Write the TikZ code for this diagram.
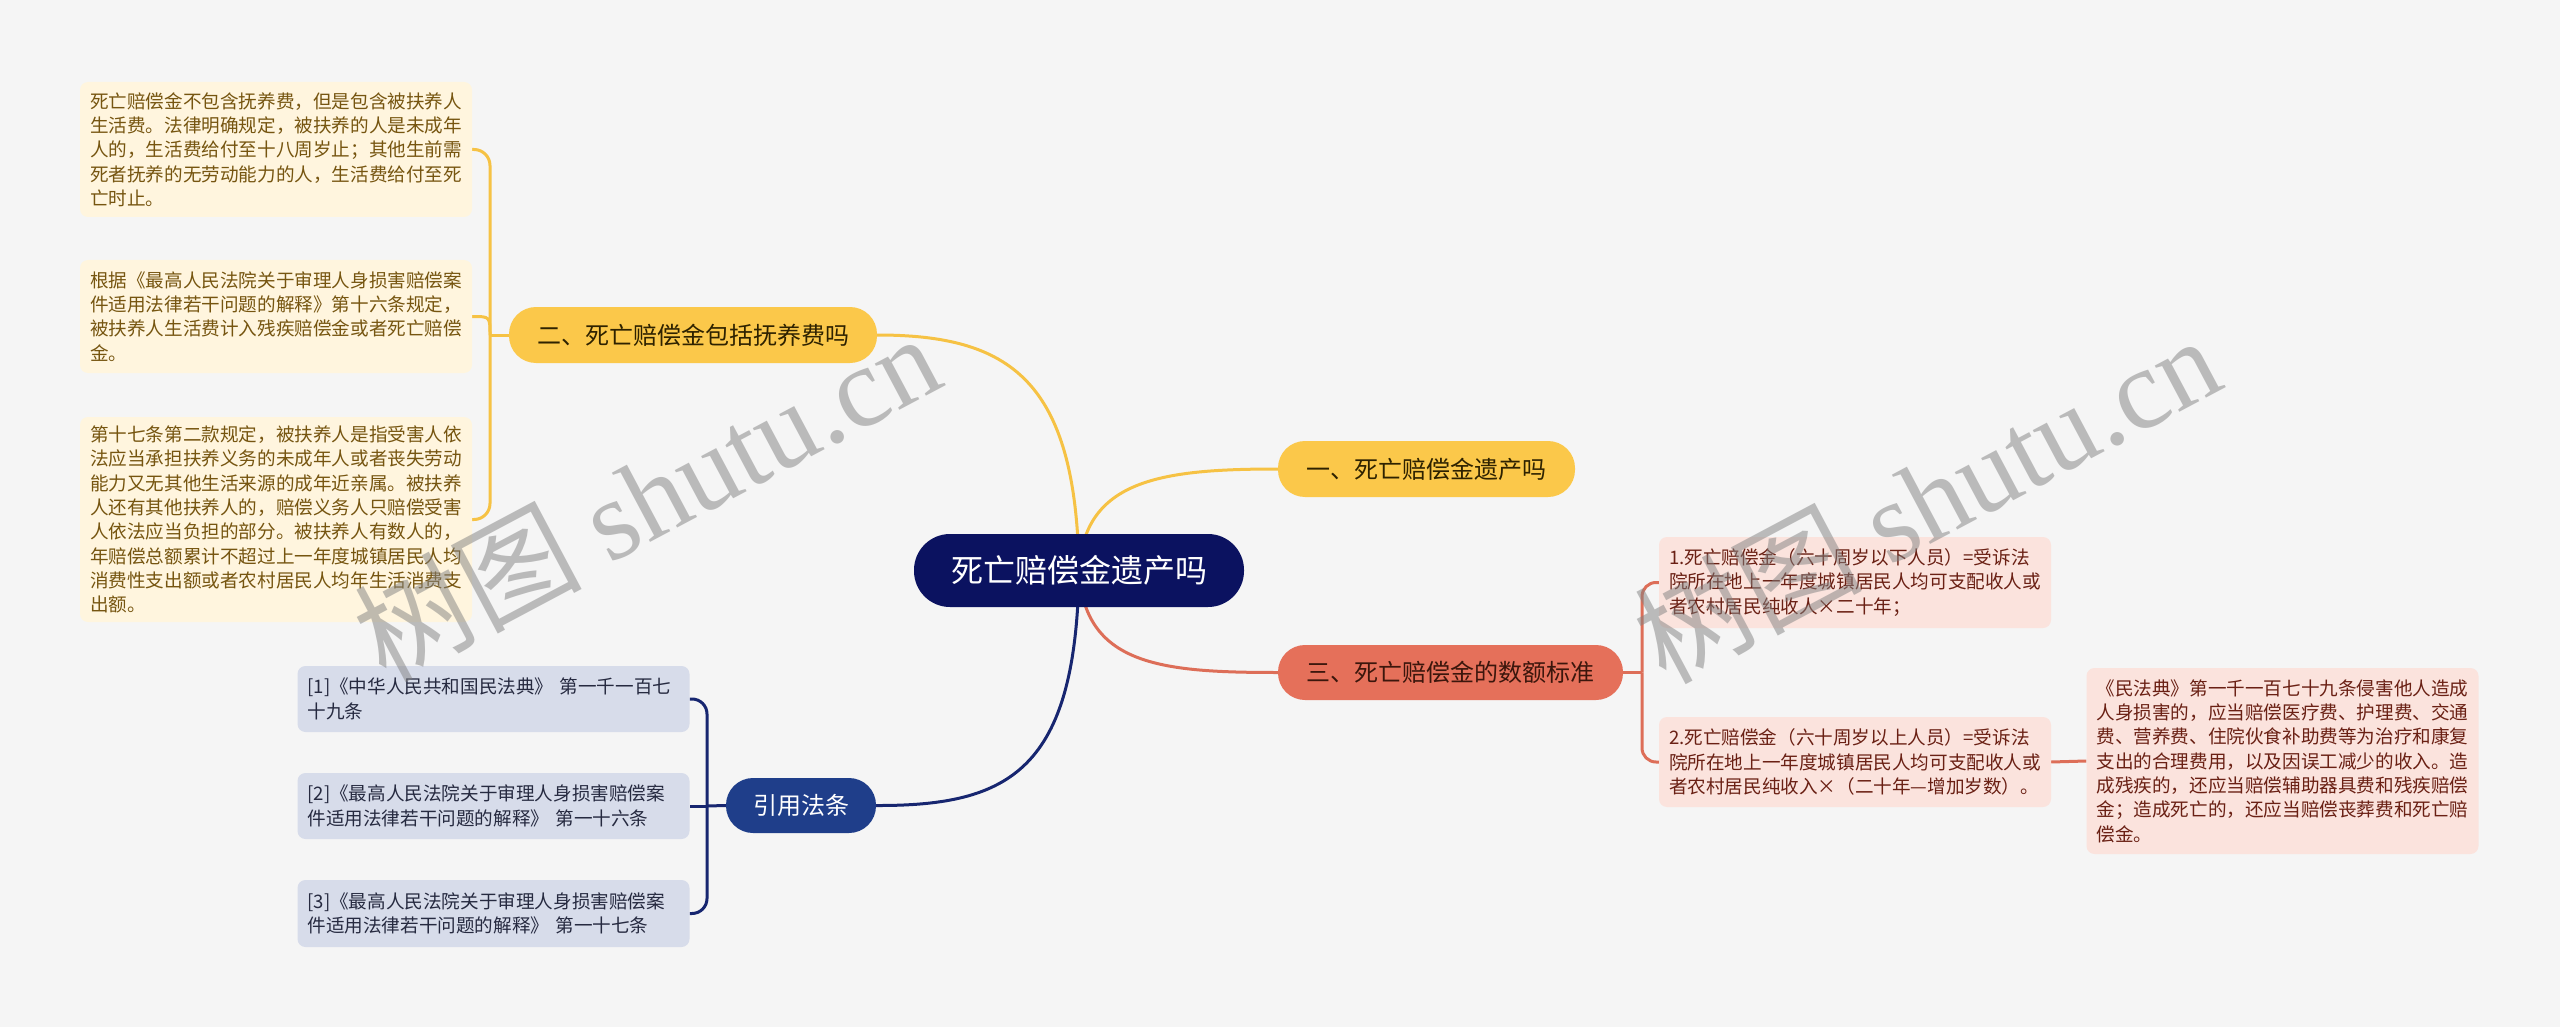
\documentclass[tikz,border=0pt]{standalone}
\usepackage{fontspec}
\setmainfont{Noto Sans CJK SC}
\newfontfamily\wmserif{Liberation Serif}
\usetikzlibrary{backgrounds}
\definecolor{bgc}{HTML}{F5F5F5}
\definecolor{rootc}{HTML}{0B1260}
\definecolor{yelc}{HTML}{FBC84A}
\definecolor{yelt}{HTML}{2E2200}
\definecolor{salc}{HTML}{E5705A}
\definecolor{salt}{HTML}{3B160C}
\definecolor{bluc}{HTML}{1F3E8A}
\definecolor{ylf}{HTML}{FFF5DE}
\definecolor{ylt}{HTML}{765510}
\definecolor{pkf}{HTML}{FBE3DD}
\definecolor{pkt}{HTML}{6A2014}
\definecolor{blf}{HTML}{D7DCEA}
\definecolor{blt}{HTML}{262A40}
\definecolor{ylinec}{HTML}{F6C244}
\definecolor{slinec}{HTML}{DD6E58}
\definecolor{nlinec}{HTML}{172670}
\begin{document}
\begin{tikzpicture}[x=1pt,y=-1pt,
  leaf/.style={rounded corners=8pt, text width=372pt, inner xsep=10pt, inner ysep=0pt,
    align=left, minimum width=392pt, font=\fontsize{18.6}{24.3}\selectfont},
  yleaf/.style={leaf, fill=ylf, text=ylt},
  pleaf/.style={leaf, fill=pkf, text=pkt},
  bleaf/.style={leaf, fill=blf, text=blt},
  pill/.style={rounded corners=27pt, inner sep=0pt, minimum height=56pt,
    font=\fontsize{24}{28}\selectfont},
  yline/.style={draw=ylinec, line width=3pt},
  sline/.style={draw=slinec, line width=3pt},
  nline/.style={draw=nlinec, line width=3pt},
  wm/.style={text=black!50, opacity=0.5, font=\fontsize{114}{120}\selectfont, inner sep=0pt}
]
\useasboundingbox (0,0) rectangle (2560,1027);

% main nodes
\node[pill, fill=rootc, text=white, minimum width=330pt, minimum height=73pt,
  rounded corners=36pt, font=\fontsize{32}{36}\selectfont] (root) at (1079,570.5) {死亡赔偿金遗产吗};
\node[pill, fill=yelc, text=yelt, minimum width=297pt] (b1) at (1426.5,469) {一、死亡赔偿金遗产吗};
\node[pill, fill=yelc, text=yelt, minimum width=368pt] (b2) at (693,335) {二、死亡赔偿金包括抚养费吗};
\node[pill, fill=salc, text=salt, minimum width=345pt, minimum height=55pt] (b3) at (1450.5,672.5) {三、死亡赔偿金的数额标准};
\node[pill, fill=bluc, text=white, minimum width=150pt, minimum height=55pt] (b4) at (801,805.5) {引用法条};

% leaves of b2
\node[yleaf, minimum height=135pt] (L1) at (276,149.5) {死亡赔偿金不包含抚养费，但是包含被扶养人\\生活费。法律明确规定，被扶养的人是未成年\\人的，生活费给付至十八周岁止；其他生前需\\死者抚养的无劳动能力的人，生活费给付至死\\亡时止。};
\node[yleaf, minimum height=113pt] (L2) at (276,316.5) {根据《最高人民法院关于审理人身损害赔偿案\\件适用法律若干问题的解释》第十六条规定，\\被扶养人生活费计入残疾赔偿金或者死亡赔偿\\金。};
\node[yleaf, minimum height=205pt] (L3) at (276,519.5) {第十七条第二款规定，被扶养人是指受害人依\\法应当承担扶养义务的未成年人或者丧失劳动\\能力又无其他生活来源的成年近亲属。被扶养\\人还有其他扶养人的，赔偿义务人只赔偿受害\\人依法应当负担的部分。被扶养人有数人的，\\年赔偿总额累计不超过上一年度城镇居民人均\\消费性支出额或者农村居民人均年生活消费支\\出额。};

% leaves of b4
\node[bleaf, minimum height=66pt] (R1) at (493.5,699) {[1]《中华人民共和国民法典》 第一千一百七\\十九条};
\node[bleaf, minimum height=66pt] (R2) at (493.5,806) {[2]《最高人民法院关于审理人身损害赔偿案\\件适用法律若干问题的解释》 第一十六条};
\node[bleaf, minimum height=67pt] (R3) at (493.5,913.5) {[3]《最高人民法院关于审理人身损害赔偿案\\件适用法律若干问题的解释》 第一十七条};

% leaves of b3
\node[pleaf, minimum height=91pt] (S1) at (1855,582.5) {1.死亡赔偿金（六十周岁以下人员）=受诉法\\院所在地上一年度城镇居民人均可支配收人或\\者农村居民纯收人×二十年；};
\node[pleaf, minimum height=90pt] (S2) at (1855,762) {2.死亡赔偿金（六十周岁以上人员）=受诉法\\院所在地上一年度城镇居民人均可支配收人或\\者农村居民纯收入×（二十年—增加岁数）。};
\node[pleaf, minimum height=186pt] (M) at (2282.5,761) {《民法典》第一千一百七十九条侵害他人造成\\人身损害的，应当赔偿医疗费、护理费、交通\\费、营养费、住院伙食补助费等为治疗和康复\\支出的合理费用，以及因误工减少的收入。造\\成残疾的，还应当赔偿辅助器具费和残疾赔偿\\金；造成死亡的，还应当赔偿丧葬费和死亡赔\\偿金。};

\coordinate (j2) at (490,335);
\coordinate (j4) at (707,806);
\coordinate (j3) at (1642,672.5);

\begin{pgfonlayer}{background}
\fill[bgc] (0,0) rectangle (2560,1027);
\draw[yline] (root.center) .. controls (1076,380) and (1010,335) .. (b2.east);
\draw[yline] (root.center) .. controls (1084,480) and (1160,469) .. (b1.west);
\draw[sline] (root.center) .. controls (1084,665) and (1160,672.5) .. (b3.west);
\draw[nline] (root.center) .. controls (1076,770) and (1010,806) .. (b4.east);
% b2 bracket
\draw[yline] (b2.west) -- (j2);
\draw[yline, rounded corners=16pt] (j2) |- (L1.east);
\draw[yline] (j2) .. controls (j2 |- L2.east) .. (L2.east);
\draw[yline, rounded corners=16pt] (j2) |- (L3.east);
% b4 bracket
\draw[nline] (b4.west) -- (j4);
\draw[nline, rounded corners=15pt] (j4) |- (R1.east);
\draw[nline] (j4) -- (R2.east);
\draw[nline, rounded corners=15pt] (j4) |- (R3.east);
% b3 bracket
\draw[sline] (b3.east) -- (j3);
\draw[sline, rounded corners=14pt] (j3) |- (S1.west);
\draw[sline, rounded corners=14pt] (j3) |- (S2.west);
\draw[sline] (S2.east) -- (M.west);
\end{pgfonlayer}

% watermarks
\node[wm, rotate=28] (wm1) at (646,496) {树图 {\wmserif shutu.cn}};
\node[wm, rotate=28] (wm2) at (1926,498) {树图 {\wmserif shutu.cn}};
\end{tikzpicture}
\end{document}
